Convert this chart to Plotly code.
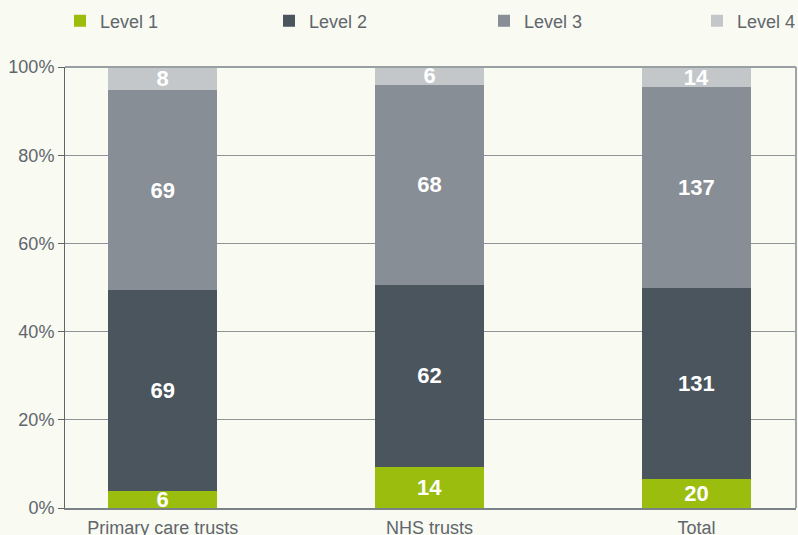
import plotly.graph_objects as go

categories = ["Primary care trusts", "NHS trusts", "Total"]
level1 = [6, 14, 20]
level2 = [69, 62, 131]
level3 = [69, 68, 137]
level4 = [8, 6, 14]
series_names = ["Level 1", "Level 2", "Level 3", "Level 4"]
series_values = [level1, level2, level3, level4]
colors = ["#9abd0e", "#4b555e", "#888e95", "#c4c7ca"]
y_ticks = [0, 20, 40, 60, 80, 100]
y_tick_labels = ["0%", "20%", "40%", "60%", "80%", "100%"]

legend_ids = ["legend", "legend2", "legend3", "legend4"]
legend_x = [60, 269, 484, 697]

fig = go.Figure()
for name, vals, col, lid in zip(series_names, series_values, colors, legend_ids):
    fig.add_trace(go.Bar(
        x=categories, y=vals, name=name, legend=lid,
        marker=dict(color=col, line=dict(width=0)),
        width=0.41,
        text=vals, texttemplate="%{text}",
        textposition="inside", insidetextanchor="middle", textangle=0,
        textfont=dict(family="Liberation Sans", size=22, color="white", weight="bold"),
        constraintext="none",
        cliponaxis=False,
        hoverinfo="skip",
    ))

bg = "#f9faf2"
layout_legends = {}
for lid, lx in zip(legend_ids, legend_x):
    layout_legends[lid] = dict(
        x=lx / 798, xref="container", xanchor="left",
        y=1 - 21 / 535, yref="container", yanchor="middle",
        orientation="h", font=dict(size=18, color="#60666c"),
        bgcolor="rgba(0,0,0,0)", borderwidth=0,
    )

fig.update_layout(
    barmode="stack", barnorm="percent",
    width=798, height=535,
    paper_bgcolor=bg, plot_bgcolor=bg,
    margin=dict(l=65, r=2, t=67, b=27, autoexpand=False),
    font=dict(family="Liberation Sans", size=18, color="#60666c"),
    uniformtext=dict(minsize=22, mode="show"),
    showlegend=True,
    **layout_legends,
)
fig.update_xaxes(range=[-0.366, 2.373], showgrid=False, showline=True,
                 linecolor="#7b8287", linewidth=2, ticks="",
                 ticklabelstandoff=2,
                 tickfont=dict(size=18, color="#60666c"), fixedrange=True)
fig.update_yaxes(range=[0, 100], tickvals=y_ticks, ticktext=y_tick_labels,
                 showgrid=True, gridcolor="#8e9398", gridwidth=1,
                 showline=True, linecolor="#5f656a", linewidth=1,
                 ticks="outside", ticklen=6, tickcolor="#5f656a",
                 tickfont=dict(size=18, color="#60666c"), zeroline=False,
                 fixedrange=True)
fig.add_shape(type="line", xref="paper", yref="paper", x0=1, x1=1, y0=0, y1=1,
              line=dict(color="#a0a4a6", width=2))
fig.add_shape(type="line", xref="paper", yref="paper", x0=0, x1=1, y0=1, y1=1,
              line=dict(color="#9a9fa3", width=2))
fig.write_html(
    "out.html",
    config={"displayModeBar": False},
    post_script="document.body.style.margin='0';document.body.style.overflow='hidden';document.body.style.background='#f9faf2';",
)
